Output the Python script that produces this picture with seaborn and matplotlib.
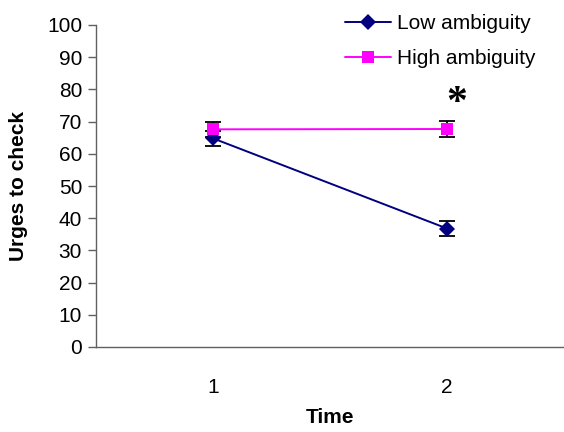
import matplotlib
matplotlib.use("Agg")
import matplotlib.pyplot as plt
import seaborn as sns
import pandas as pd
import numpy as np

# Data
times = ["1", "2"]
groups = ["Low ambiguity", "High ambiguity"]
low_values = [64.8, 36.8]
high_values = [67.6, 67.7]
low_err = [2.4, 2.4]
high_err = [2.4, 2.4]
y_ticks = [0, 10, 20, 30, 40, 50, 60, 70, 80, 90, 100]
sig_marker = "*"

sns.set_theme(style="white")
plt.rcParams["font.family"] = ["Liberation Sans", "DejaVu Sans"]
plt.rcParams["text.color"] = "black"
plt.rcParams["axes.labelcolor"] = "black"
plt.rcParams["xtick.color"] = "black"
plt.rcParams["ytick.color"] = "black"

rows = []
for g, vals, errs in [(groups[0], low_values, low_err), (groups[1], high_values, high_err)]:
    for i, (t, v, e) in enumerate(zip(times, vals, errs)):
        rows.append({"Time": t, "pos": i + 0.5, "value": v, "err": e, "group": g})
df = pd.DataFrame(rows)

colors = {groups[0]: "#000080", groups[1]: "#FF00FF"}
markers = {groups[0]: "D", groups[1]: "s"}

fig = plt.figure(figsize=(5.64, 4.32), dpi=100)
ax = fig.add_axes([96 / 564, 1 - 347 / 432, (564 - 96) / 564, (347 - 25) / 432])

for g in groups:
    sub = df[df.group == g]
    ax.errorbar(sub["pos"], sub["value"], yerr=sub["err"], fmt="none",
                ecolor="black", elinewidth=1.3, capsize=6, capthick=1.3, zorder=2)

sns.lineplot(data=df, x="pos", y="value", hue="group", style="group",
             hue_order=groups, style_order=groups, palette=colors,
             markers=markers, dashes=False, markersize=8, linewidth=1.4,
             markeredgewidth=0, ax=ax, zorder=3, legend=True)

ax.set_xlim(0, 2)
ax.set_ylim(0, 100)
ax.set_yticks(y_ticks)
ax.set_yticklabels([str(t) for t in y_ticks], fontsize=15)
ax.set_xticks([0, 1, 2])
ax.set_xticklabels([])
ax.set_xticks([i + 0.5 for i in range(len(times))], minor=True)
ax.set_xticklabels(times, minor=True, fontsize=15)
ax.tick_params(axis="x", which="major", direction="out", length=6, width=1, color="#606060")
ax.tick_params(axis="x", which="minor", length=0, pad=22, labelcolor="black")
ax.tick_params(axis="y", which="major", direction="out", length=6, width=1, color="#606060",
               pad=4, left=True, labelcolor="black")

for s in ["top", "right"]:
    ax.spines[s].set_visible(False)
for s in ["left", "bottom"]:
    ax.spines[s].set_color("#606060")
    ax.spines[s].set_linewidth(1.0)

ax.set_xlabel("Time", fontsize=15, fontweight="bold", labelpad=8, color="black")
ax.set_ylabel("Urges to check", fontsize=15, fontweight="bold", labelpad=14, color="black")

ax.text(1.54, 75.5, sig_marker, fontsize=30, fontweight="bold", ha="center", va="center",
        family="Liberation Serif", color="black")

handles, labels = ax.get_legend_handles_labels()
leg = ax.legend(handles, labels, loc="upper left", bbox_to_anchor=(337 / 564, 1 - 6 / 432),
                bbox_transform=fig.transFigure, frameon=False, fontsize=15,
                handlelength=2.2, handletextpad=0.3, labelspacing=0.75, borderaxespad=0)
for t in leg.get_texts():
    t.set_color("black")
ax.patch.set_alpha(0)

fig.savefig("out.png", dpi=100)
